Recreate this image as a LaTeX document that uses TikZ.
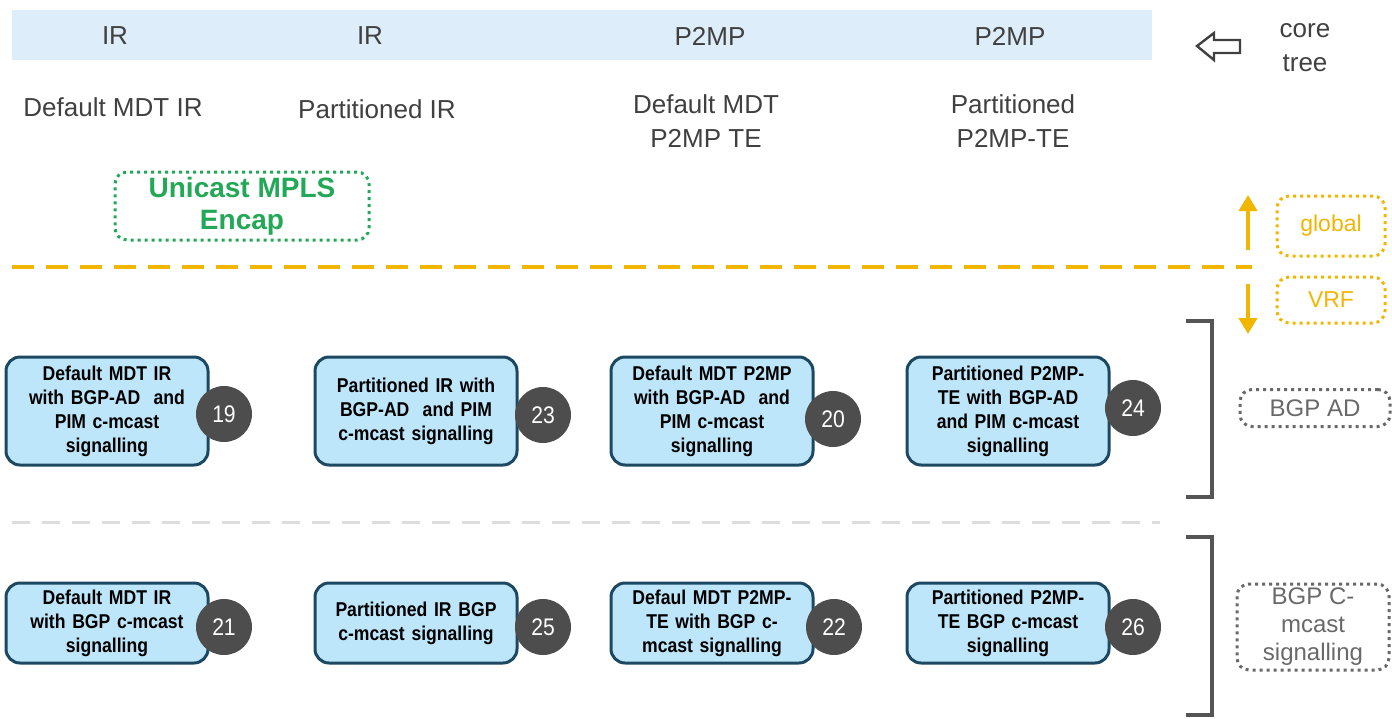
\documentclass[tikz,border=0pt]{standalone}
\usepackage{fontspec}
\setmainfont{Liberation Sans}
\newfontfamily\narrowfont[FakeStretch=0.88]{Liberation Sans}
\usepackage{tikz}
\usetikzlibrary{arrows.meta,positioning}
\definecolor{bandblue}{RGB}{221,238,250}
\definecolor{labelgray}{RGB}{64,64,64}
\definecolor{modefill}{RGB}{190,230,250}
\definecolor{modeedge}{RGB}{28,72,98}
\definecolor{numgray}{RGB}{77,77,77}
\definecolor{encapgreen}{RGB}{34,168,86}
\definecolor{vrfyellow}{RGB}{242,182,0}
\definecolor{bracketgray}{RGB}{85,85,85}
\definecolor{splitgray}{RGB}{221,221,221}
\definecolor{taggray}{RGB}{105,105,105}
\tikzset{
  toplabel/.style={text=labelgray,font=\fontsize{13}{17}\selectfont,align=center,inner sep=0pt},
  mode/.style={draw=modeedge,fill=modefill,line width=1.5pt,rounded corners=7pt,
    align=center,text width=95pt,inner sep=3pt,minimum height=54pt,
    font=\narrowfont\bfseries\fontsize{10}{12}\selectfont},
  modeshort/.style={mode,minimum height=40pt},
  num/.style={circle,fill=numgray,text=white,minimum size=28pt,inner sep=0pt,
    font=\narrowfont\fontsize{12}{14}\selectfont},
  tag/.style={draw=taggray,text=taggray,line width=1.5pt,dash pattern=on 1.5pt off 2pt,
    rounded corners=6pt,align=center,inner sep=0pt,font=\fontsize{12}{14}\selectfont},
  updown/.style={vrfyellow,line width=2pt,-{Triangle[width=9pt,length=8pt]}},
}

\begin{document}
\begin{tikzpicture}[x=0.5pt,y=-0.5pt]
\useasboundingbox (0,0) rectangle (1392,718);
% core tree band
\fill[bandblue] (12,10) rectangle (1152,60);
\node[toplabel] (ir1) at (115,36) {IR};
\node[toplabel] (ir2) at (370,36) {IR};
\node[toplabel] (p2mp1) at (710,36) {P2MP};
\node[toplabel] (p2mp2) at (1010,36) {P2MP};
\node[toplabel] (core) at (1305,48) {core\\tree};
\draw[labelgray,line width=1.2pt,line join=miter]
  (1197,46) -- (1214,33) -- (1214,40) -- (1240,40) -- (1240,53) -- (1214,53) -- (1214,60) -- cycle;
% tree types
\node[toplabel] (defir) at (113,107) {Default MDT IR};
\node[toplabel] (partir) at (377,109) {Partitioned IR};
\node[toplabel] (defte) at (706,121) {Default MDT\\P2MP TE};
\node[toplabel] (partte) at (1013,121) {Partitioned\\P2MP-TE};
\node[tag,draw=encapgreen,text=encapgreen,minimum width=127pt,minimum height=34pt,
  font=\bfseries\fontsize{14}{16}\selectfont] (encap) at (242,206) {Unicast MPLS\\Encap};
% global / VRF split
\draw[vrfyellow,line width=2pt,dash pattern=on 11pt off 6pt] (12,267) -- (1252,267);
\coordinate (split) at (1248,267);
\draw[updown] (1248,250) -- (1248,195);
\draw[updown] (1248,284) -- (1248,334);
\node[tag,draw=vrfyellow,text=vrfyellow,minimum width=54pt,minimum height=30pt,
  font=\fontsize{11.5}{13}\selectfont] (global) at (1331,226) {global};
\node[tag,draw=vrfyellow,text=vrfyellow,minimum width=54pt,minimum height=23pt,
  font=\fontsize{11.5}{13}\selectfont] (vrf) at (1331,300) {VRF};
% brackets
\draw[bracketgray,line width=2pt] (1186,321) -- (1212,321) -- (1212,497) -- (1186,497);
\draw[bracketgray,line width=2pt] (1186,537) -- (1212,537) -- (1212,715) -- (1186,715);
\node[tag,minimum width=75pt,minimum height=18.5pt] (bgpad) at (1315,408) {BGP AD};
\node[tag,minimum width=76pt,minimum height=43pt] (bgpc) at (1313,627) {BGP C-\\mcast\\signalling};
\draw[splitgray,line width=1.5pt,dash pattern=on 9pt off 6pt] (12,522) -- (1160,522);
% BGP AD row
\node[mode] (m19) at (107,411) {Default MDT IR\\with BGP-AD\ \ and\\PIM c-mcast\\signalling};
\node[mode] (m23) at (416,411) {Partitioned IR with\\BGP-AD\ \ and PIM\\c-mcast signalling};
\node[mode] (m20) at (712,411) {Default MDT P2MP\\with BGP-AD\ \ and\\PIM c-mcast\\signalling};
\node[mode] (m24) at (1008,411) {Partitioned P2MP-\\TE with BGP-AD\\and PIM c-mcast\\signalling};
\node[num] (n19) at (224,414) {19};
\node[num] (n23) at (543,415) {23};
\node[num] (n20) at (833,419) {20};
\node[num] (n24) at (1133,408) {24};
% BGP c-mcast row
\node[modeshort] (m21) at (107,623) {Default MDT IR\\with BGP c-mcast\\signalling};
\node[modeshort] (m25) at (416,623) {Partitioned IR BGP\\c-mcast signalling};
\node[modeshort] (m22) at (712,623) {Defaul MDT P2MP-\\TE with BGP c-\\mcast signalling};
\node[modeshort] (m26) at (1008,623) {Partitioned P2MP-\\TE BGP c-mcast\\signalling};
\node[num] (n21) at (224,627) {21};
\node[num] (n25) at (543,627) {25};
\node[num] (n22) at (834,627) {22};
\node[num] (n26) at (1133,627) {26};
\end{tikzpicture}
\end{document}
